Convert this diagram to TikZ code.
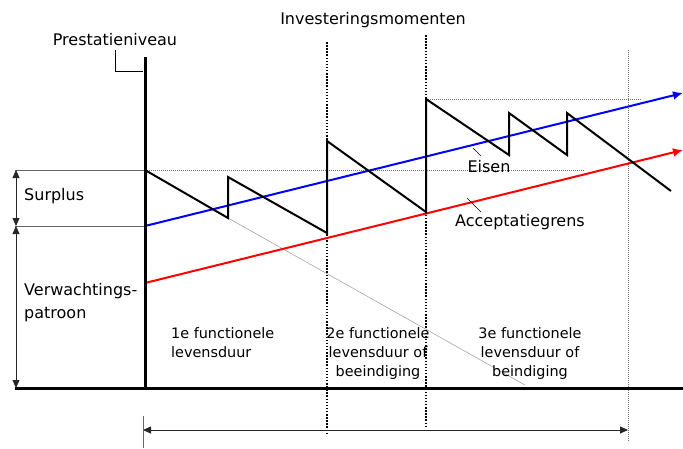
\documentclass[tikz,border=0pt]{standalone}
\usepackage{fontspec}
\setmainfont{DejaVu Sans}
\usepackage{tikz}
\usetikzlibrary{arrows.meta}
\definecolor{eisblue}{HTML}{0000FF}
\definecolor{grensred}{HTML}{FF0000}
\tikzset{
  >={Triangle[length=8pt,width=7pt]},
  % assen en lijnen
  as/.style={line width=3pt},
  saw/.style={line width=2pt,line join=miter,miter limit=20},
  moment/.style={line width=1.8pt,dash pattern=on 1.5pt off 1.6pt},
  hulp/.style={draw=black!55,line width=0.8pt,dash pattern=on 1pt off 1pt},
  dun/.style={draw=black!60,line width=0.8pt},
  maat/.style={<->,draw=black!85,line width=0.8pt},
  lijn/.style={->,line width=2pt},
  % teksten
  lbl/.style={inner sep=0pt,font=\fontsize{16}{23}\selectfont},
  fase/.style={inner sep=0pt,align=center,font=\fontsize{14.4}{19}\selectfont},
}

\begin{document}
\begin{tikzpicture}[x=1pt,y=-1pt]
\useasboundingbox (0,0) rectangle (683,448);
  % punten
  \coordinate (ytop) at (145,57);
  \coordinate (o) at (145,388);
  \coordinate (xl) at (15,388);
  \coordinate (xr) at (683,388);
  \coordinate (sup) at (145,170);
  \coordinate (verw) at (145,226);
  \coordinate (supl) at (15,170);
  \coordinate (verwl) at (15,226);
  \coordinate (m1t) at (327,42);
  \coordinate (m1b) at (327,433);
  \coordinate (m2t) at (426,35);
  \coordinate (m2b) at (426,427);
  \coordinate (eindt) at (628,50);
  \coordinate (eindb) at (628,442);
  \coordinate (e0) at (145,226);
  \coordinate (e1) at (683,93);
  \coordinate (g0) at (145,283);
  \coordinate (g1) at (683,150);
  % hulplijnen
  \draw[hulp] (sup) -- (585,170);
  \draw[hulp] (426,99) -- (641,99);
  \draw[hulp] (eindt) -- (eindb);
  \draw[draw=black!40,line width=0.5pt] (228,218) -- (525,385);
  \draw[dun] (supl) -- (sup);
  \draw[dun] (verwl) -- (verw);
  % investeringsmomenten
  \draw[moment] (m1t) -- (m1b);
  \draw[moment] (m2t) -- (m2b);
  % eisen en acceptatiegrens
  \draw[lijn,draw=eisblue,>={Latex[length=10pt,width=9pt,fill=eisblue]}] (e0) -- (e1);
  \draw[lijn,draw=grensred,>={Latex[length=10pt,width=9pt,fill=grensred]}] (g0) -- (g1);
  % prestatie
  \draw[saw] (sup) -- (228,218) -- (228,177) -- (327,233) -- (327,141)
    -- (426,212) -- (426,99) -- (509,155) -- (509,113) -- (567,155)
    -- (567,113) -- (671,191);
  % assen
  \draw[as] (ytop) -- (o);
  \draw[as] (xl) -- (xr);
  % maatlijnen
  \draw[maat] (16,170) -- (16,226);
  \draw[maat] (16,226) -- (16,388);
  \draw[maat] (143,430) -- (628,430);
  \draw[dun] (143,416) -- (143,448);
  % labels
  \node[lbl,anchor=base] (prest) at (115,45) {Prestatieniveau};
  \draw[dun,draw=black] (115,50) -- (115,71) -- (143,71);
  \node[lbl,anchor=base] (inv) at (373,24) {Investeringsmomenten};
  \node[lbl,anchor=base west] (surplus) at (24,200) {Surplus};
  \node[lbl,anchor=north west,align=left] (patroon) at (24,283) {Verwachtings-\\patroon};
  \node[lbl,anchor=base] (eisen) at (489,172) {Eisen};
  \draw[draw=black,line width=0.6pt] (473,148) -- (481,156);
  \node[lbl,anchor=base] (accept) at (520,226) {Acceptatiegrens};
  \draw[draw=black,line width=0.6pt] (467,198) -- (481,212);
  \node[fase,anchor=north west,align=left] (f1) at (171,327) {1e functionele\\levensduur};
  \node[fase,anchor=north] (f2) at (378,327) {2e functionele\\levensduur of\\beeindiging};
  \node[fase,anchor=north] (f3) at (530,327) {3e functionele\\levensduur of\\beindiging};
\end{tikzpicture}
\end{document}
